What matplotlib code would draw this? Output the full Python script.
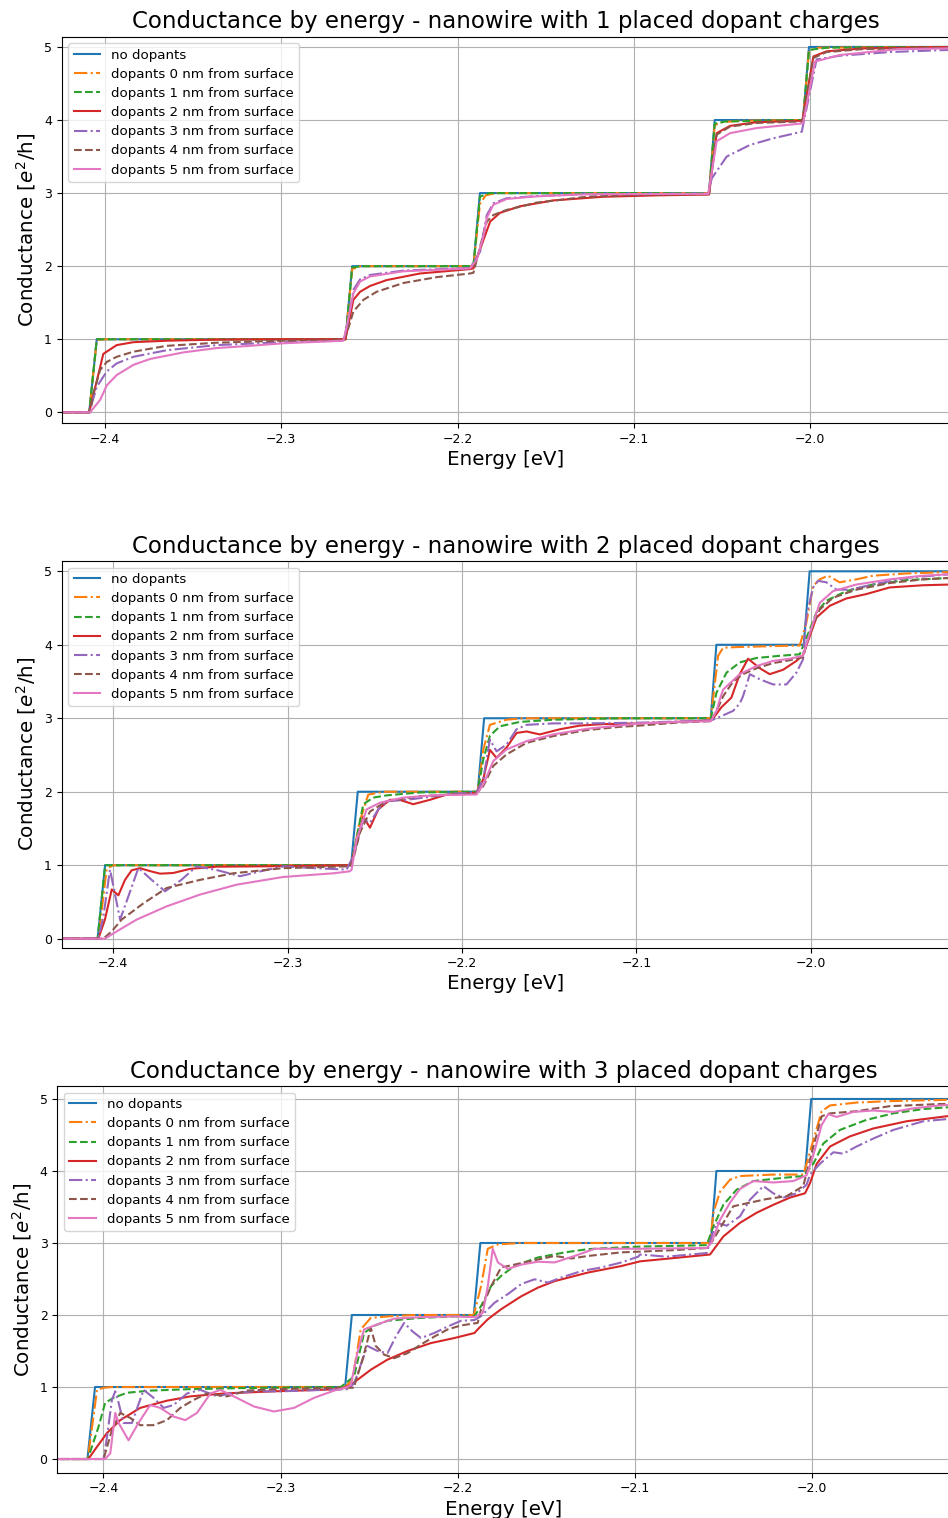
import matplotlib
matplotlib.use("Agg")
import matplotlib.pyplot as plt

# ---------------- data (energy [eV], conductance [e^2/h]) ----------------
labels = ["no dopants", "dopants 0 nm from surface", "dopants 1 nm from surface",
          "dopants 2 nm from surface", "dopants 3 nm from surface",
          "dopants 4 nm from surface", "dopants 5 nm from surface"]
titles = ["Conductance by energy - nanowire with 1 placed dopant charges",
          "Conductance by energy - nanowire with 2 placed dopant charges",
          "Conductance by energy - nanowire with 3 placed dopant charges"]
xticks = [-2.4, -2.3, -2.2, -2.1, -2.0]
yticks = [0, 1, 2, 3, 4, 5]

no_dopants = [(-2.43, 0), (-2.409, 0), (-2.4047, 1), (-2.2636, 1), (-2.2598, 2),
              (-2.1910, 2), (-2.1873, 3), (-2.0573, 3), (-2.0541, 4), (-2.0040, 4),
              (-2.0006, 5), (-1.92, 5)]

# ---- 1 dopant charge ----
p1_d0 = [(-2.43, 0), (-2.409, 0), (-2.4047, 0.99), (-2.400, 1.0), (-2.2636, 1), (-2.2598, 1.96),
         (-2.255, 2.0), (-2.1910, 2), (-2.1873, 2.85), (-2.184, 2.97), (-2.178, 3.0), (-2.0573, 3),
         (-2.0541, 3.93), (-2.050, 3.97), (-2.040, 3.99), (-2.0040, 4), (-2.0006, 4.95),
         (-1.995, 4.99), (-1.92, 5)]
p1_d1 = [(-2.43, 0), (-2.409, 0), (-2.4047, 1.0), (-2.2636, 1), (-2.2598, 1.98), (-2.255, 2.0),
         (-2.1910, 2), (-2.1873, 2.95), (-2.182, 3.0), (-2.0573, 3), (-2.0541, 3.95),
         (-2.048, 3.98), (-2.0040, 4.0), (-2.0006, 4.96), (-1.99, 4.99), (-1.92, 5)]
p1_d2 = [(-2.43, 0), (-2.409, 0), (-2.401, 0.80), (-2.3934, 0.92), (-2.3839, 0.96), (-2.365, 0.98),
         (-2.337, 0.995), (-2.30, 1.0), (-2.2636, 1.0), (-2.2591, 1.54), (-2.2553, 1.65),
         (-2.2496, 1.73), (-2.2402, 1.81), (-2.2213, 1.90), (-2.1929, 1.96), (-2.191, 1.97),
         (-2.1853, 2.36), (-2.1815, 2.61), (-2.1759, 2.73), (-2.1645, 2.82), (-2.1456, 2.90),
         (-2.1173, 2.95), (-2.085, 2.97), (-2.0573, 2.98), (-2.0530, 3.82), (-2.0454, 3.92),
         (-2.0303, 3.97), (-2.0044, 3.99), (-1.9981, 4.87), (-1.9906, 4.94), (-1.97, 4.98),
         (-1.92, 5.0)]
p1_d3 = [(-2.43, 0), (-2.409, 0), (-2.4047, 0.35), (-2.399, 0.56), (-2.3934, 0.67), (-2.3839, 0.76),
         (-2.365, 0.85), (-2.3366, 0.92), (-2.2988, 0.96), (-2.2648, 0.98), (-2.2625, 1.2),
         (-2.259, 1.68), (-2.2553, 1.82), (-2.2496, 1.88), (-2.2307, 1.94), (-2.1929, 1.975),
         (-2.1872, 2.2), (-2.1853, 2.45), (-2.1834, 2.70), (-2.1797, 2.86), (-2.1721, 2.93),
         (-2.1551, 2.96), (-2.1267, 2.985), (-2.0577, 2.99), (-2.0558, 3.2), (-2.0473, 3.50),
         (-2.034, 3.66), (-2.0208, 3.75), (-2.0047, 3.84), (-1.9963, 4.83), (-1.983, 4.88),
         (-1.9546, 4.93), (-1.92, 4.96)]
p1_d4 = [(-2.43, 0), (-2.4085, 0), (-2.4066, 0.26), (-2.4028, 0.58), (-2.399, 0.69), (-2.3934, 0.76),
         (-2.3839, 0.83), (-2.365, 0.91), (-2.3366, 0.953), (-2.2988, 0.98), (-2.2648, 0.99),
         (-2.2629, 1.08), (-2.2591, 1.38), (-2.2534, 1.54), (-2.2459, 1.65), (-2.2307, 1.77),
         (-2.2118, 1.85), (-2.1929, 1.90), (-2.191, 1.91), (-2.1872, 2.27), (-2.1834, 2.61),
         (-2.1797, 2.70), (-2.1721, 2.77), (-2.1551, 2.87), (-2.1267, 2.95), (-2.0983, 2.975),
         (-2.0577, 2.985), (-2.0530, 3.80), (-2.0454, 3.91), (-2.0303, 3.96), (-2.0044, 3.98),
         (-1.9981, 4.85), (-1.9906, 4.93), (-1.97, 4.97), (-1.92, 4.99)]
p1_d5 = [(-2.43, 0), (-2.4085, 0), (-2.4028, 0.17), (-2.399, 0.37), (-2.3934, 0.51), (-2.3839, 0.65),
         (-2.3745, 0.73), (-2.3556, 0.82), (-2.3366, 0.88), (-2.3177, 0.91), (-2.2988, 0.945),
         (-2.2648, 0.98), (-2.2629, 1.17), (-2.2591, 1.63), (-2.2553, 1.79), (-2.2496, 1.86),
         (-2.2307, 1.93), (-2.1929, 1.97), (-2.1891, 2.09), (-2.1853, 2.41), (-2.1834, 2.66),
         (-2.1797, 2.84), (-2.1721, 2.92), (-2.1551, 2.955), (-2.1267, 2.985), (-2.0577, 2.99),
         (-2.053, 3.71), (-2.0454, 3.82), (-2.0303, 3.89), (-2.0057, 3.95), (-2.004, 3.955),
         (-1.9972, 4.80), (-1.983, 4.89), (-1.95, 4.97), (-1.92, 4.98)]

# ---- 2 dopant charges ----
p2_d0 = [(-2.43, 0), (-2.4086, 0), (-2.4038, 0.95), (-2.400, 1.0), (-2.2636, 1.0), (-2.2586, 1.6),
         (-2.2538, 1.96), (-2.245, 2.0), (-2.1910, 2.0), (-2.1878, 2.57), (-2.1840, 2.91),
         (-2.1745, 2.98), (-2.165, 3.0), (-2.0573, 3.0), (-2.0531, 3.85), (-2.0502, 3.96),
         (-2.0407, 3.97), (-2.0063, 3.99), (-2.0025, 4.30), (-1.9986, 4.80), (-1.9948, 4.89),
         (-1.9901, 4.94), (-1.9834, 4.85), (-1.9738, 4.89), (-1.9643, 4.94), (-1.9452, 4.97),
         (-1.92, 4.99)]
p2_d1 = [(-2.43, 0), (-2.409, 0), (-2.4047, 1.0), (-2.2636, 1.0), (-2.2566, 1.83), (-2.2509, 1.92),
         (-2.2433, 1.95), (-2.2242, 1.99), (-2.1910, 2.0), (-2.1878, 2.44), (-2.1840, 2.76),
         (-2.1783, 2.89), (-2.1668, 2.95), (-2.1477, 2.98), (-2.1095, 3.0), (-2.0573, 3.0),
         (-2.0540, 3.35), (-2.0483, 3.62), (-2.0407, 3.76), (-2.0311, 3.82), (-2.0177, 3.85),
         (-2.0063, 3.87), (-2.0005, 4.21), (-1.9967, 4.44), (-1.9910, 4.60), (-1.9796, 4.73),
         (-1.9643, 4.82), (-1.9452, 4.88), (-1.92, 4.91)]
p2_d2 = [(-2.43, 0), (-2.4086, 0.0), (-2.4048, 0.26), (-2.4009, 0.67), (-2.3971, 0.59),
         (-2.3933, 0.80), (-2.3895, 0.93), (-2.3847, 0.96), (-2.3790, 0.92), (-2.3732, 0.885),
         (-2.3656, 0.894), (-2.3561, 0.95), (-2.3408, 0.98), (-2.3121, 0.985), (-2.2643, 1.0),
         (-2.2624, 1.12), (-2.2566, 1.66), (-2.2528, 1.51), (-2.2480, 1.76), (-2.2414, 1.89),
         (-2.2357, 1.89), (-2.2280, 1.83), (-2.2184, 1.89), (-2.2089, 1.96), (-2.1917, 1.985),
         (-2.1878, 2.17), (-2.1840, 2.57), (-2.1802, 2.46), (-2.1745, 2.60), (-2.1687, 2.80),
         (-2.1630, 2.82), (-2.1554, 2.78), (-2.1439, 2.85), (-2.1324, 2.90), (-2.1191, 2.92),
         (-2.0980, 2.93), (-2.0573, 2.97), (-2.0559, 3.0), (-2.0512, 3.15), (-2.0455, 3.28),
         (-2.0407, 3.6), (-2.0359, 3.81), (-2.0292, 3.68), (-2.0235, 3.60), (-2.0158, 3.66),
         (-2.0082, 3.78), (-2.0044, 3.86), (-2.0005, 4.12), (-1.9967, 4.37), (-1.9891, 4.53),
         (-1.9796, 4.63), (-1.9681, 4.69), (-1.9547, 4.78), (-1.9356, 4.81), (-1.92, 4.82)]
p2_d3 = [(-2.43, 0), (-2.4086, 0), (-2.4057, 0.3), (-2.4019, 0.94), (-2.3990, 0.6), (-2.3961, 0.26),
         (-2.3910, 0.6), (-2.3856, 0.963), (-2.3780, 0.80), (-2.3703, 0.645), (-2.3610, 0.80),
         (-2.3522, 0.985), (-2.3400, 0.93), (-2.3273, 0.85), (-2.3150, 0.92), (-2.3025, 0.985),
         (-2.2850, 0.96), (-2.2662, 0.94), (-2.2624, 1.12), (-2.2566, 1.62), (-2.2528, 1.575),
         (-2.2480, 1.76), (-2.2433, 1.87), (-2.2318, 1.89), (-2.2184, 1.93), (-2.2050, 1.976),
         (-2.1917, 1.985), (-2.1878, 2.17), (-2.1840, 2.71), (-2.1802, 2.55), (-2.1745, 2.64),
         (-2.1687, 2.85), (-2.1630, 2.91), (-2.1477, 2.93), (-2.1286, 2.93), (-2.0980, 2.94),
         (-2.0573, 2.97), (-2.0540, 3.0), (-2.0445, 3.1), (-2.0407, 3.2), (-2.0388, 3.30),
         (-2.0349, 3.60), (-2.0292, 3.53), (-2.0216, 3.46), (-2.0139, 3.46), (-2.0082, 3.62),
         (-2.0044, 3.80), (-2.0025, 4.39), (-1.9986, 4.78), (-1.9958, 4.87), (-1.9910, 4.85),
         (-1.9853, 4.75), (-1.9777, 4.75), (-1.9643, 4.82), (-1.9452, 4.91), (-1.92, 4.96)]
p2_d4 = [(-2.43, 0), (-2.4057, 0), (-2.4009, 0.1), (-2.3952, 0.26), (-2.3828, 0.48), (-2.3694, 0.69),
         (-2.3503, 0.80), (-2.3312, 0.89), (-2.3025, 0.96), (-2.2643, 0.985), (-2.2624, 1.08),
         (-2.2586, 1.44), (-2.2528, 1.73), (-2.2433, 1.87), (-2.2242, 1.94), (-2.1917, 1.976),
         (-2.1878, 2.076), (-2.1821, 2.35), (-2.1745, 2.507), (-2.1630, 2.665), (-2.1477, 2.757),
         (-2.1286, 2.838), (-2.1095, 2.883), (-2.0980, 2.90), (-2.0770, 2.94), (-2.0573, 2.96),
         (-2.0540, 3.1), (-2.0502, 3.3), (-2.0445, 3.5), (-2.0388, 3.6), (-2.0311, 3.68),
         (-2.0216, 3.75), (-2.0120, 3.79), (-2.0044, 3.83), (-2.0005, 4.16), (-1.9948, 4.48),
         (-1.9872, 4.64), (-1.9738, 4.75), (-1.9547, 4.84), (-1.9356, 4.89), (-1.92, 4.91)]
p2_d5 = [(-2.43, 0), (-2.4048, 0), (-2.3980, 0.10), (-2.3866, 0.26), (-2.3694, 0.44), (-2.3503, 0.60),
         (-2.3293, 0.735), (-2.3025, 0.84), (-2.2738, 0.89), (-2.2643, 0.917), (-2.2633, 0.94),
         (-2.2605, 1.35), (-2.2547, 1.76), (-2.2471, 1.85), (-2.2337, 1.92), (-2.2146, 1.953),
         (-2.1917, 1.962), (-2.1878, 2.098), (-2.1821, 2.416), (-2.1745, 2.575), (-2.1630, 2.688),
         (-2.1477, 2.78), (-2.1286, 2.856), (-2.1095, 2.902), (-2.0980, 2.93), (-2.0770, 2.95),
         (-2.0573, 2.96), (-2.0540, 3.1), (-2.0521, 3.26), (-2.0502, 3.39), (-2.0407, 3.60),
         (-2.0311, 3.71), (-2.0216, 3.78), (-2.0120, 3.81), (-2.0044, 3.85), (-2.0005, 4.16),
         (-1.9948, 4.57), (-1.9872, 4.73), (-1.9738, 4.82), (-1.9547, 4.89), (-1.9356, 4.94),
         (-1.92, 4.96)]

# ---- 3 dopant charges ----
p3_d0 = [(-2.43, 0), (-2.4088, 0.0), (-2.4036, 0.96), (-2.3999, 0.99), (-2.395, 1.0),
         (-2.2636, 1.0), (-2.2595, 1.10), (-2.2548, 1.80), (-2.2491, 1.96), (-2.2397, 1.98),
         (-2.225, 2.0), (-2.1910, 2.0), (-2.1869, 2.40), (-2.1831, 2.92), (-2.1774, 2.98),
         (-2.165, 3.0), (-2.0577, 3.0), (-2.0558, 3.42), (-2.0521, 3.71), (-2.0464, 3.88),
         (-2.0408, 3.93), (-2.0220, 3.95), (-2.0051, 3.95), (-2.0032, 4.10), (-1.9994, 4.43),
         (-1.9947, 4.83), (-1.9900, 4.91), (-1.9750, 4.95), (-1.9562, 4.97), (-1.92, 4.99)]
p3_d1 = [(-2.43, 0), (-2.4088, 0.0), (-2.4027, 0.45), (-2.3990, 0.78), (-2.3943, 0.85),
         (-2.3867, 0.92), (-2.3736, 0.95), (-2.3509, 0.97), (-2.3226, 0.985), (-2.2660, 1.0),
         (-2.2585, 1.15), (-2.2529, 1.75), (-2.2472, 1.85), (-2.2397, 1.92), (-2.2208, 1.96),
         (-2.2020, 1.98), (-2.1906, 1.985), (-2.1869, 2.124), (-2.1812, 2.403), (-2.1756, 2.543),
         (-2.1680, 2.683), (-2.1548, 2.799), (-2.1397, 2.869), (-2.1265, 2.915), (-2.1077, 2.939),
         (-2.0972, 2.95), (-2.0596, 2.97), (-2.0558, 3.23), (-2.0502, 3.53), (-2.0427, 3.74),
         (-2.0333, 3.86), (-2.0182, 3.90), (-2.0051, 3.93), (-1.9994, 4.10), (-1.9938, 4.38),
         (-1.9844, 4.57), (-1.9694, 4.71), (-1.9543, 4.80), (-1.9374, 4.86), (-1.92, 4.89)]
p3_d2 = [(-2.43, 0), (-2.4085, 0.0), (-2.4036, 0.17), (-2.3980, 0.36), (-2.3905, 0.54),
         (-2.3792, 0.71), (-2.3641, 0.81), (-2.3509, 0.87), (-2.3321, 0.91), (-2.3038, 0.94),
         (-2.2660, 0.97), (-2.2604, 1.03), (-2.2491, 1.24), (-2.2397, 1.38), (-2.2284, 1.50),
         (-2.2152, 1.61), (-2.2020, 1.68), (-2.1906, 1.75), (-2.1888, 1.80), (-2.1831, 1.94),
         (-2.1756, 2.08), (-2.1642, 2.26), (-2.1548, 2.38), (-2.1454, 2.47), (-2.1265, 2.59),
         (-2.1077, 2.68), (-2.0972, 2.745), (-2.0784, 2.79), (-2.0577, 2.84), (-2.0502, 3.09),
         (-2.0408, 3.28), (-2.0314, 3.42), (-2.0220, 3.53), (-2.0126, 3.63), (-2.0041, 3.69),
         (-2.0013, 3.83), (-1.9975, 4.10), (-1.9900, 4.34), (-1.9788, 4.48), (-1.9656, 4.59),
         (-1.9468, 4.69), (-1.9242, 4.76), (-1.92, 4.765)]
p3_d3 = [(-2.43, 0), (-2.3999, 0.0), (-2.3980, 0.30), (-2.3952, 0.82), (-2.3933, 0.94),
         (-2.3914, 0.78), (-2.3886, 0.50), (-2.3839, 0.50), (-2.3773, 0.96), (-2.3717, 0.85),
         (-2.3660, 0.71), (-2.3604, 0.75), (-2.3528, 0.91), (-2.3453, 0.96), (-2.3359, 0.87),
         (-2.3283, 0.91), (-2.3151, 0.94), (-2.3000, 0.94), (-2.2755, 0.96), (-2.2623, 0.97),
         (-2.2585, 1.05), (-2.2510, 1.57), (-2.2453, 1.50), (-2.2397, 1.47), (-2.2350, 1.70),
         (-2.2303, 1.89), (-2.2255, 1.77), (-2.2208, 1.68), (-2.2133, 1.75), (-2.2057, 1.84),
         (-2.1982, 1.92), (-2.1906, 1.93), (-2.1869, 1.985), (-2.1793, 2.17), (-2.1718, 2.29),
         (-2.1642, 2.43), (-2.1567, 2.496), (-2.1492, 2.45), (-2.1416, 2.52), (-2.1303, 2.61),
         (-2.1190, 2.66), (-2.1077, 2.73), (-2.0982, 2.81), (-2.0972, 2.84), (-2.0821, 2.81),
         (-2.0596, 2.86), (-2.0568, 3.09), (-2.0540, 3.28), (-2.0483, 3.24), (-2.0408, 3.37),
         (-2.0352, 3.60), (-2.0276, 3.79), (-2.0220, 3.69), (-2.0164, 3.63), (-2.0088, 3.69),
         (-2.0032, 3.81), (-2.0013, 3.95), (-1.9957, 4.10), (-1.9881, 4.26), (-1.9825, 4.24),
         (-1.9750, 4.34), (-1.9656, 4.45), (-1.9543, 4.57), (-1.9374, 4.69), (-1.92, 4.73)]
p3_d4 = [(-2.43, 0), (-2.3999, 0.0), (-2.3952, 0.40), (-2.3905, 0.64), (-2.3848, 0.57),
         (-2.3792, 0.47), (-2.3717, 0.47), (-2.3641, 0.54), (-2.3566, 0.71), (-2.3491, 0.82),
         (-2.3415, 0.91), (-2.3302, 0.87), (-2.3189, 0.95), (-2.3038, 0.97), (-2.2660, 0.99),
         (-2.2585, 0.99), (-2.2585, 1.01), (-2.2538, 1.38), (-2.2491, 1.82), (-2.2463, 1.57),
         (-2.2416, 1.45), (-2.2359, 1.40), (-2.2284, 1.47), (-2.2208, 1.59), (-2.2133, 1.70),
         (-2.2057, 1.80), (-2.1982, 1.855), (-2.1888, 1.89), (-2.1869, 2.078), (-2.1812, 2.40),
         (-2.1756, 2.66), (-2.1680, 2.70), (-2.1548, 2.77), (-2.1454, 2.82), (-2.1360, 2.785),
         (-2.1265, 2.82), (-2.1077, 2.87), (-2.0972, 2.88), (-2.0784, 2.90), (-2.0596, 2.93),
         (-2.0568, 3.01), (-2.0502, 3.28), (-2.0446, 3.51), (-2.0352, 3.56), (-2.0258, 3.61),
         (-2.0145, 3.65), (-2.0051, 3.79), (-1.9994, 4.34), (-1.9947, 4.76), (-1.9900, 4.80),
         (-1.9750, 4.83), (-1.9562, 4.90), (-1.9280, 4.93), (-1.92, 4.93)]
p3_d5 = [(-2.43, 0), (-2.3990, 0.0), (-2.3961, 0.08), (-2.3933, 0.64), (-2.3914, 0.50),
         (-2.3858, 0.26), (-2.3802, 0.50), (-2.3736, 0.75), (-2.3679, 0.71), (-2.3604, 0.59),
         (-2.3538, 0.54), (-2.3472, 0.64), (-2.3396, 0.91), (-2.3340, 0.96), (-2.3264, 0.87),
         (-2.3151, 0.73), (-2.3038, 0.66), (-2.2924, 0.71), (-2.2811, 0.85), (-2.2698, 0.95),
         (-2.2623, 1.0), (-2.2604, 1.03), (-2.2567, 1.47), (-2.2529, 1.80), (-2.2453, 1.87),
         (-2.2359, 1.95), (-2.2208, 1.97), (-2.2020, 1.98), (-2.1906, 1.97), (-2.1859, 2.03),
         (-2.1831, 2.40), (-2.1803, 2.92), (-2.1774, 2.73), (-2.1718, 2.64), (-2.1642, 2.70),
         (-2.1548, 2.74), (-2.1454, 2.73), (-2.1341, 2.82), (-2.1227, 2.92), (-2.1077, 2.92),
         (-2.0972, 2.92), (-2.0596, 2.93), (-2.0568, 3.01), (-2.0521, 3.32), (-2.0464, 3.56),
         (-2.0408, 3.75), (-2.0333, 3.86), (-2.0220, 3.84), (-2.0107, 3.86), (-2.0032, 3.94),
         (-1.9994, 4.22), (-1.9947, 4.64), (-1.9910, 4.79), (-1.9863, 4.75), (-1.9769, 4.82),
         (-1.9656, 4.84), (-1.9543, 4.82), (-1.9430, 4.87), (-1.9280, 4.91), (-1.92, 4.92)]

panel_series = [
    [no_dopants, p1_d0, p1_d1, p1_d2, p1_d3, p1_d4, p1_d5],
    [no_dopants, p2_d0, p2_d1, p2_d2, p2_d3, p2_d4, p2_d5],
    [no_dopants, p3_d0, p3_d1, p3_d2, p3_d3, p3_d4, p3_d5],
]

# ---------------- styling / layout ----------------
colors = ["#1f77b4", "#ff7f0e", "#2ca02c", "#d62728", "#9467bd", "#8c564b", "#e377c2"]
styles = ["-", "-.", "--", "-", "-.", "--", "-"]
W, H = 948, 1518
# (left px, top px, bottom px, xlim, ylim)
layout = [
    (61.7, 36.7, 423.3, (-2.4246, -1.9206), (-0.15, 5.14)),
    (61.7, 561.0, 947.5, (-2.4296, -1.9201), (-0.12, 5.14)),
    (57.3, 1086.0, 1472.7, (-2.4260, -1.9223), (-0.19, 5.18)),
]

fig = plt.figure(figsize=(W / 100, H / 100), dpi=100)
for k, (lpx, tpx, bpx, xl, yl) in enumerate(layout):
    ax = fig.add_axes([lpx / W, 1 - bpx / H, (950 - lpx) / W, (bpx - tpx) / H])
    for i, series in enumerate(panel_series[k]):
        xs = [p[0] for p in series]
        ys = [p[1] for p in series]
        ax.plot(xs, ys, linestyle=styles[i], color=colors[i], lw=1.5, label=labels[i])
    ax.set_xlim(*xl)
    ax.set_ylim(*yl)
    ax.set_xticks(xticks)
    ax.set_yticks(yticks)
    ax.tick_params(labelsize=9)
    ax.grid(True, color="#b0b0b0", lw=0.8)
    ax.set_title(titles[k], fontsize=16.5)
    ax.set_xlabel("Energy [eV]", fontsize=14.3, labelpad=3)
    ax.set_ylabel("Conductance [$e^2$/h]", fontsize=14.3)
    ax.legend(loc="upper left", fontsize=9.6, labelspacing=0.46)

fig.savefig("out.png", dpi=100)
